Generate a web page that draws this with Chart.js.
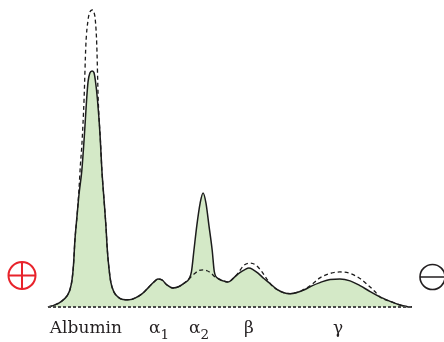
<!DOCTYPE html>
<html>
<head>
<meta charset="utf-8">
<script src="https://cdn.jsdelivr.net/npm/chart.js@4/dist/chart.umd.min.js"></script>
<style>
  html, body { margin: 0; padding: 0; background: #fff; }
  #wrap { width: 444px; height: 342px; }
</style>
</head>
<body>
<div id="wrap"><canvas id="spep" width="444" height="342"></canvas></div>
<script>
// Serum protein electrophoresis: migration distance (0-100) vs. relative optical density.

// Patient densitometry trace (solid, filled)
const mobility = [
  0, 1.9, 3.8, 5.2, 6.0, 6.6, 7.0, 7.4, 8.0, 8.5, 9.3, 10.0, 10.6, 11.0, 11.5, 12.1,
  12.6, 13.0, 13.6, 14.3, 14.8, 15.4, 15.9, 16.3, 16.8, 17.3, 18.1, 19.2, 20.6, 22.3,
  23.9, 25.8, 27.7, 29.1, 30.2, 31.3, 32.7, 34.3, 36.0, 37.6, 38.7, 39.4, 40.1, 40.9,
  41.8, 42.6, 43.4, 44.2, 45.1, 45.7, 46.7, 48.1, 49.5, 51.1, 52.7, 54.1, 55.2, 56.3,
  57.7, 59.3, 61.0, 62.9, 64.8, 66.5, 68.4, 70.6, 72.5, 74.7, 77.5, 80.2, 83.0, 85.7,
  88.5, 91.2, 94.0, 96.7, 98.4, 100
];
const patient = [
  0, 0.7, 2.0, 3.7, 5.7, 9.1, 14.1, 22.6, 31.0, 37.7, 46.1, 57.9, 69.7, 75.8, 78.8, 79.5,
  79.0, 76.4, 69.7, 57.9, 46.1, 36.0, 27.6, 19.2, 12.5, 8.1, 5.1, 3.4, 2.5, 2.4,
  3.0, 4.4, 6.7, 8.4, 9.4, 9.1, 7.4, 6.4, 6.9, 8.2, 9.4, 11.8, 19.2, 27.6,
  35.0, 38.4, 35.0, 27.6, 19.2, 11.8, 9.6, 8.8, 8.4, 9.9, 11.6, 12.6, 13.1, 12.6,
  11.4, 9.6, 7.9, 5.9, 4.8, 4.5, 4.9, 5.9, 7.1, 8.2, 9.3, 9.4, 8.8, 7.2,
  5.2, 3.4, 1.9, 0.7, 0.2, 0
];

// Normal serum pattern (dashed)
const normalMobility = [
  0, 1.9, 3.8, 5.2, 6.0, 6.6, 7.0, 7.4, 8.0, 8.5, 8.9, 9.3, 9.9, 10.4, 11.0, 11.5, 12.1,
  12.6, 13.0, 13.4, 13.8, 14.4, 14.8, 15.4, 15.9, 16.3, 16.8, 17.3, 18.1, 19.2, 20.6, 22.3,
  23.9, 25.8, 27.7, 29.1, 30.2, 31.3, 32.7, 34.3, 36.0, 37.6, 38.7, 39.4, 40.4, 41.5,
  42.6, 43.7, 44.8, 45.7, 46.7, 48.1, 49.5, 51.1, 52.2, 53.8, 55.5, 57.1, 58.8, 60.4,
  61.5, 62.9, 64.8, 66.5, 68.4, 70.6, 72.5, 74.7, 77.5, 80.2, 83.0, 85.7, 87.9, 89.8,
  91.2, 94.0, 96.7, 98.4, 100
];
const normal = [
  0, 0.7, 2.0, 3.7, 5.7, 9.1, 14.1, 22.6, 31.0, 39.4, 47.8, 54.5, 69.7, 88.2, 96.6, 99.3, 100,
  99.3, 96.6, 88.2, 69.7, 56.2, 46.1, 36.0, 27.6, 19.2, 12.5, 8.1, 5.1, 3.4, 2.5, 2.4,
  3.0, 4.4, 6.7, 8.4, 9.4, 9.1, 7.4, 6.4, 6.9, 8.2, 9.4, 10.3, 11.4, 12.3,
  12.5, 12.2, 11.4, 10.3, 9.6, 8.8, 8.4, 9.9, 11.4, 14.0, 14.8, 14.1, 11.8, 8.9,
  7.2, 5.9, 4.8, 4.5, 4.9, 6.1, 7.6, 9.8, 11.3, 11.8, 11.3, 9.6, 7.4, 5.2,
  3.4, 1.9, 0.7, 0.2, 0
];

// Fraction labels along the migration axis
const fractionNames = ['Albumin', 'α', 'α', 'β', 'γ'];
const fractionSubscripts = ['', '1', '2', '', ''];
const fractionCenters = [10.4, 30.5, 41.5, 55.2, 79.7];

// Electrode marks: anode (+) on the left, cathode (−) on the right, at this density level
const anodeLevel = 10.6;
const cathodeLevel = 10.1;

const toPoints = (xs, ys) => xs.map((x, i) => ({ x: x, y: ys[i] }));

const TEXT = '#231f20';
const LINE = '#1c1c1c';

const decorations = {
  id: 'decorations',
  afterDraw(chart) {
    const ctx = chart.ctx;
    const xs = chart.scales.x;
    const ys = chart.scales.y;
    const area = chart.chartArea;

    // fraction names with subscripts
    ctx.save();
    ctx.fillStyle = TEXT;
    ctx.textBaseline = 'alphabetic';
    const base = ys.getPixelForValue(0) + 26;
    const mainFont = '17px "DejaVu Serif", serif';
    const subFont = '13.5px "DejaVu Serif", serif';
    fractionNames.forEach((name, i) => {
      const sub = fractionSubscripts[i];
      ctx.font = mainFont;
      const w1 = ctx.measureText(name).width;
      ctx.font = subFont;
      const w2 = sub ? ctx.measureText(sub).width : 0;
      const cx = xs.getPixelForValue(fractionCenters[i]);
      const left = cx - (w1 + w2) / 2;
      ctx.textAlign = 'left';
      ctx.font = mainFont;
      ctx.fillText(name, left, base);
      if (sub) {
        ctx.font = subFont;
        ctx.fillText(sub, left + w1, base + 6);
      }
    });
    ctx.restore();

    // anode symbol
    ctx.save();
    const ax = area.left - 26;
    const ay = ys.getPixelForValue(anodeLevel);
    const ar = 13.5;
    ctx.strokeStyle = '#e8232b';
    ctx.lineWidth = 2;
    ctx.beginPath();
    ctx.arc(ax, ay, ar, 0, Math.PI * 2);
    ctx.moveTo(ax - ar, ay); ctx.lineTo(ax + ar, ay);
    ctx.moveTo(ax, ay - ar); ctx.lineTo(ax, ay + ar);
    ctx.stroke();
    ctx.restore();

    // cathode symbol
    ctx.save();
    const kx = area.right + 20.5;
    const ky = ys.getPixelForValue(cathodeLevel);
    const kr = 12.5;
    ctx.strokeStyle = TEXT;
    ctx.lineWidth = 1.6;
    ctx.beginPath();
    ctx.arc(kx, ky, kr, 0, Math.PI * 2);
    ctx.moveTo(kx - kr, ky); ctx.lineTo(kx + kr, ky);
    ctx.stroke();
    ctx.restore();
  }
};

new Chart(document.getElementById('spep'), {
  type: 'line',
  data: {
    datasets: [
      {
        label: 'Baseline',
        data: [{ x: 0, y: 0 }, { x: 100, y: 0 }],
        borderColor: '#4a4a4a',
        borderWidth: 2,
        borderDash: [3, 2],
        pointRadius: 0,
        fill: false,
        clip: false
      },
      {
        label: 'Normal',
        data: toPoints(normalMobility, normal),
        borderColor: LINE,
        borderWidth: 1.3,
        borderDash: [4, 3],
        pointRadius: 0,
        fill: false,
        cubicInterpolationMode: 'monotone',
        clip: false
      },
      {
        label: 'Patient',
        data: toPoints(mobility, patient),
        borderColor: LINE,
        borderWidth: 1.5,
        backgroundColor: '#d4e9c7',
        pointRadius: 0,
        fill: 'origin',
        cubicInterpolationMode: 'monotone',
        clip: false
      }
    ]
  },
  options: {
    responsive: false,
    animation: false,
    devicePixelRatio: 1,
    layout: { padding: { left: 48, right: 32, top: 10, bottom: 35 } },
    scales: {
      x: { type: 'linear', min: 0, max: 100, display: false },
      y: { min: 0, max: 100, display: false }
    },
    plugins: {
      legend: { display: false },
      tooltip: { enabled: false }
    }
  },
  plugins: [decorations]
});
</script>
</body>
</html>
